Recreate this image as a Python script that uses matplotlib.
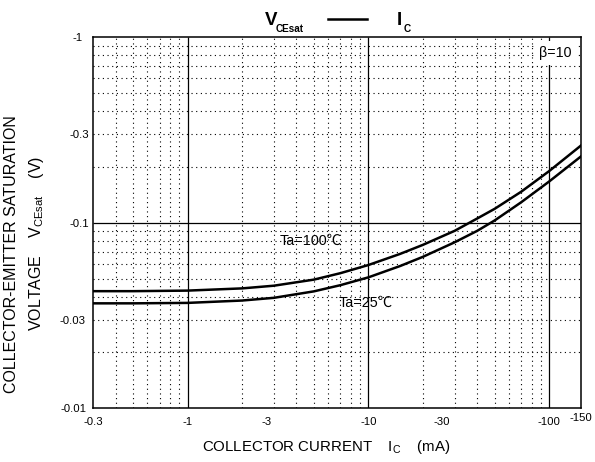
import numpy as np
import matplotlib
matplotlib.use("Agg")
import matplotlib.pyplot as plt
from matplotlib.ticker import LogLocator
from matplotlib.transforms import ScaledTranslation
from matplotlib.lines import Line2D

plt.rcParams['font.family'] = ['Liberation Sans', 'Noto Sans CJK JP', 'DejaVu Sans']
plt.rcParams['mathtext.fontset'] = 'custom'
plt.rcParams['mathtext.rm'] = 'Liberation Sans'
plt.rcParams['mathtext.bf'] = 'Liberation Sans:bold'

# ---- data ----
ic_ma = [0.3, 0.5, 1, 2, 3, 5, 7, 10, 15, 20, 30, 40, 50, 70, 100, 150]
vce_100c = [0.0428, 0.0428, 0.0431, 0.0443, 0.0458, 0.0494, 0.0535, 0.0592,
            0.0680, 0.0760, 0.0905, 0.1055, 0.1190, 0.1470, 0.1900, 0.2610]
vce_25c = [0.0368, 0.0368, 0.0370, 0.0381, 0.0394, 0.0427, 0.0461, 0.0508,
           0.0585, 0.0655, 0.0785, 0.0905, 0.1030, 0.1290, 0.1670, 0.2280]
x_ticks = [0.3, 1, 3, 10, 30, 100, 150]
x_tick_labels = ['-0.3', '-1', '-3', '-10', '-30', '-100', '-150']
y_ticks = [0.01, 0.03, 0.1, 0.3, 1]
y_tick_labels = ['-0.01', '-0.03', '-0.1', '-0.3', '-1']

W, H = 595, 462
fig = plt.figure(figsize=(W / 100, H / 100), dpi=100)
L, R, T, B = 93, 581, 37.3, 408.3
ax = fig.add_axes([L / W, 1 - B / H, (R - L) / W, (B - T) / H])
ax.set_xscale('log')
ax.set_yscale('log')
ax.set_xlim(0.3, 150)
ax.set_ylim(0.01, 1)

# grid
xl, yl = ax.get_xlim(), ax.get_ylim()
def inside(v, lim):
    v = np.asarray(v)
    return v[(v > lim[0] * 1.0001) & (v < lim[1] / 1.0001)]
xmaj = inside(LogLocator(base=10).tick_values(*xl), xl)
xmin = inside(LogLocator(base=10, subs=np.arange(2, 10)).tick_values(*xl), xl)
ymaj = inside(LogLocator(base=10).tick_values(*yl), yl)
ymin = inside(LogLocator(base=10, subs=np.arange(2, 10)).tick_values(*yl), yl)
dot = (0, (1, 3.2))
ax.vlines(xmin, 0, 1, transform=ax.get_xaxis_transform(), colors='black',
          linewidth=0.8, linestyles=[dot], zorder=1)
ax.hlines(ymin, 0, 1, transform=ax.get_yaxis_transform(), colors='black',
          linewidth=0.8, linestyles=[dot], zorder=1)
ax.vlines(xmaj, 0, 1, transform=ax.get_xaxis_transform(), colors='black',
          linewidth=0.9, zorder=1.2)
ax.hlines(ymaj, 0, 1, transform=ax.get_yaxis_transform(), colors='black',
          linewidth=0.9, zorder=1.2)

# curves
ax.plot(ic_ma, vce_100c, color='black', linewidth=1.8, zorder=4, solid_joinstyle='round')
ax.plot(ic_ma, vce_25c, color='black', linewidth=1.8, zorder=4, solid_joinstyle='round')

# ticks
ax.set_xticks(x_ticks)
ax.set_xticklabels(x_tick_labels)
ax.set_yticks(y_ticks)
ax.set_yticklabels(y_tick_labels)
ax.minorticks_off()
ax.tick_params(length=0, labelsize=8.2, colors='black')
ax.tick_params(axis='x', pad=6.0)
ax.tick_params(axis='y', pad=3.0)
for s in ax.spines.values():
    s.set_linewidth(1.1)
    s.set_zorder(5)

fig.canvas.draw()
xoff = {'-3': (-7, 0), '-30': (-13, 0), '-150': (0, 4)}
for lab in ax.get_xticklabels():
    t = lab.get_text()
    if t in xoff:
        dx, dy = xoff[t]
        lab.set_transform(lab.get_transform() + ScaledTranslation(dx / 100, dy / 100, fig.dpi_scale_trans))
yoff = {'-1': (-6, 0), '-0.03': (-3.5, 0), '-0.01': (-2.5, 0)}
for lab in ax.get_yticklabels():
    t = lab.get_text()
    if t in yoff:
        dx, dy = yoff[t]
        lab.set_transform(lab.get_transform() + ScaledTranslation(dx / 100, dy / 100, fig.dpi_scale_trans))

def ax_frac(px, py):
    return (px - L) / (R - L), (B - py) / (B - T)

# annotations
ax.text(*ax_frac(279.3, 240.7), 'Ta=100℃', fontsize=10.4, ha='left', va='center',
        transform=ax.transAxes, zorder=6)
ax.text(*ax_frac(338.3, 303.3), 'Ta=25℃', fontsize=10.4, ha='left', va='center',
        transform=ax.transAxes, zorder=6)
ax.text(*ax_frac(539, 53.3), 'β=10', fontsize=10.3, ha='left', va='center',
        transform=ax.transAxes, zorder=6,
        bbox=dict(boxstyle='square,pad=0.35', facecolor='white', edgecolor='none'))

# title
def fx(px):
    return px / W
def fy(py):
    return 1 - py / H
fig.text(fx(265), fy(25), 'V', fontsize=13.5, fontweight='bold', va='baseline', ha='left')
fig.text(fx(275.5), fy(32.3), 'CEsat', fontsize=7.2, fontweight='bold', va='baseline', ha='left')
fig.add_artist(Line2D([fx(328), fx(367)], [fy(19.3), fy(19.3)], color='black',
                      linewidth=1.8, transform=fig.transFigure))
fig.text(fx(397), fy(25), 'I', fontsize=13.5, fontweight='bold', va='baseline', ha='left')
fig.text(fx(403.5), fy(32.3), 'C', fontsize=7.2, fontweight='bold', va='baseline', ha='left')

# axis labels
fig.text(fx(326), fy(447), r'COLLECTOR CURRENT    $\mathregular{I_{C}}$    (mA)',
         fontsize=10.8, ha='center', va='center')
fig.text(fx(12), fy(254), 'COLLECTOR-EMITTER SATURATION', fontsize=11.5,
         rotation=90, ha='center', va='center')
fig.text(fx(37), fy(243), r'VOLTAGE    $\mathregular{V_{CEsat}}$    (V)', fontsize=11.5,
         rotation=90, ha='center', va='center')

fig.savefig('out.png', dpi=100)
